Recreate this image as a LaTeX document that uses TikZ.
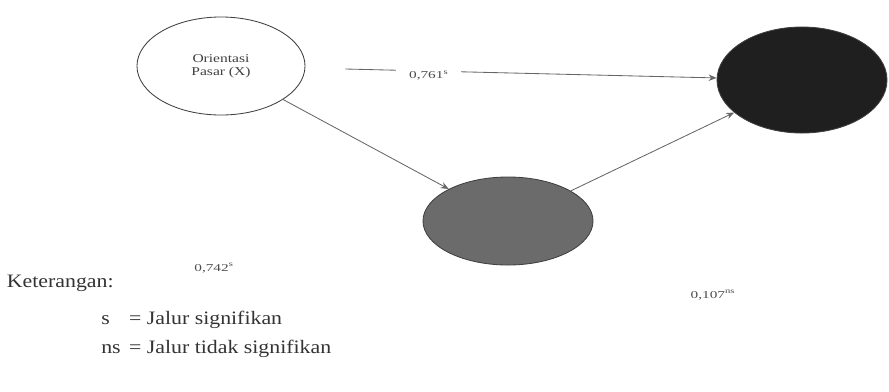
\documentclass[tikz,border=0pt]{standalone}
\usepackage{fontspec}
\setmainfont{Liberation Serif}
\newfontfamily\widefont[FakeStretch=1.3]{Liberation Serif}
\newfontfamily\coeffont[FakeStretch=1.45]{Liberation Serif}
\newfontfamily\legfont[FakeStretch=1.15]{Liberation Serif}
\usetikzlibrary{shapes.geometric,arrows.meta}

\begin{document}
\begin{tikzpicture}[x=0.025cm, y=-0.025cm,
  var/.style={ellipse, draw=black!75, line width=0.6pt, minimum width=4.2cm, minimum height=2.45cm, align=center, font=\widefont\fontsize{8.5}{9.5}\selectfont, text=black!75},
  path/.style={-{Stealth[length=2mm, width=1.6mm]}, draw=black!60, line width=0.6pt},
  coef/.style={font=\coeffont\fontsize{7.5}{8.5}\selectfont, text=black!70},
  legend/.style={font=\legfont\fontsize{13.5}{15}\selectfont, text=black!80},
]
\useasboundingbox (0,0) rectangle (889,391);

% === Variables ===
\node[var, fill=white] (x) at (221,66) {Orientasi\\ Pasar (X)};
\node[var, fill=black!58, minimum width=4.25cm, minimum height=2.2cm] (z) at (508,221) {};
\node[var, fill=black!88, minimum width=4.25cm, minimum height=2.65cm] (y) at (802,80) {};

% === Paths ===
\draw[path, shorten <=1cm] (x) -- node[pos=0.3, coef, fill=white, inner xsep=9pt, yshift=-3pt] (pxy) {0,761\textsuperscript{s}} (y);
\draw[path] (x) -- (z);
\draw[path] (z) -- (y);

\node[coef] (pxz) at (214,268) {0,742\textsuperscript{s}};
\node[coef] (pzy) at (713,295) {0,107\textsuperscript{ns}};

% === Keterangan ===
\node[legend, anchor=west] (ket) at (2,283) {Keterangan:};
\node[legend, anchor=north west, inner sep=0pt] (leg) at (101,309)
  {\begin{tabular}{@{}l@{\hspace{6pt}}l@{}}
   s  & = Jalur signifikan\\[6pt]
   ns & = Jalur tidak signifikan
   \end{tabular}};

\end{tikzpicture}
\end{document}
